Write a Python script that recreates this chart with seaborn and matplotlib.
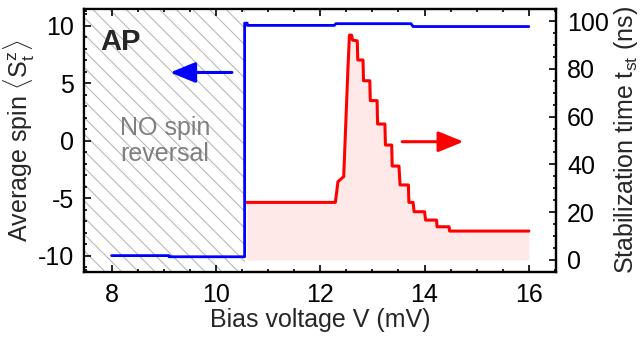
import numpy as np
import seaborn as sns
import matplotlib.pyplot as plt
from matplotlib.ticker import MultipleLocator

# Average spin (left axis) vs bias voltage
v_spin = [8.0, 9.1, 9.1, 10.55, 10.55, 10.6, 10.6, 12.27, 12.3, 13.74, 13.78, 16.0]
spin = [-10.0, -10.0, -10.1, -10.1, 10.25, 10.25, 10.05, 10.05, 10.2, 10.2, 9.95, 9.95]

# Stabilization time (right axis)
v_tst = [10.59, 12.29, 12.34, 12.45, 12.53, 12.56, 12.6, 12.62, 12.71, 12.72,
         12.82, 12.83, 12.95, 12.96, 13.09, 13.1, 13.24, 13.25, 13.37, 13.38,
         13.51, 13.53, 13.69, 13.7, 13.78, 13.8, 14.0, 14.02, 14.23, 14.24,
         14.47, 14.48, 16.0]
t_st = [24.1, 24.1, 32.8, 34.9, 79.5, 94.1, 94.1, 92.0, 91.7, 83.7,
        83.7, 75.0, 75.0, 66.7, 66.7, 56.9, 56.9, 48.1, 48.1, 39.3,
        39.3, 31.4, 31.4, 24.1, 24.1, 20.2, 20.2, 16.7, 16.7, 13.9,
        13.9, 12.1, 12.1]

v_switch = 10.55

sns.set_theme(style="ticks")
plt.rcParams['font.family'] = ['Liberation Sans', 'DejaVu Sans']
plt.rcParams['mathtext.fontset'] = 'custom'
plt.rcParams['mathtext.rm'] = 'Liberation Sans'
plt.rcParams['mathtext.it'] = 'Liberation Sans'
plt.rcParams['hatch.linewidth'] = 0.7

fig = plt.figure(figsize=(6.42, 3.4), dpi=100)
ax = fig.add_axes([0.1308, 0.2009, 0.7352, 0.7717])
ax2 = ax.twinx()

# hatched "no reversal" region
ax.axvspan(7.47, v_switch, facecolor='white', edgecolor='#b0b0b0',
           hatch='\\\\', linewidth=0, zorder=0)

sns.lineplot(x=v_spin, y=spin, ax=ax, color='#0000ff', linewidth=2.0,
             estimator=None, sort=False, zorder=3)
sns.lineplot(x=v_tst, y=t_st, ax=ax2, color='#ff0000', linewidth=2.2,
             estimator=None, sort=False, zorder=3)
ax2.fill_between(v_tst, 0, t_st, color='#ffe8e8', linewidth=0, zorder=1)

ax.set_xlim(7.47, 16.52)
ax.set_ylim(-11.4, 11.45)
ax2.set_ylim(-4.9, 104.9)

ax.xaxis.set_major_locator(MultipleLocator(2))
ax.xaxis.set_minor_locator(MultipleLocator(0.5))
ax.yaxis.set_major_locator(MultipleLocator(5))
ax.yaxis.set_minor_locator(MultipleLocator(1))
ax2.yaxis.set_major_locator(MultipleLocator(20))
ax2.yaxis.set_minor_locator(MultipleLocator(5))

ax.tick_params(which='both', direction='in', top=True, right=False,
               width=1.2, labelsize=18, pad=7, colors='black')
ax.tick_params(axis='x', pad=8)
ax.tick_params(which='major', length=5)
ax.tick_params(which='minor', length=2.5)
ax2.tick_params(which='both', direction='in', width=1.2, labelsize=18,
                pad=8, colors='black')
ax2.tick_params(which='major', length=5)
ax2.tick_params(which='minor', length=2.5)

for a in (ax, ax2):
    for s in a.spines.values():
        s.set_linewidth(1.6)
        s.set_color('black')
    a.set_facecolor('none')
ax.set_zorder(ax2.get_zorder() + 1)
ax2.patch.set_visible(True)
ax2.patch.set_facecolor('white')

ax.set_yticks([-10, -5, 0, 5, 10])
ax.set_yticklabels(['-10', '-5', '0', '5', '10'])

ax.set_xlabel('Bias voltage V (mV)', fontsize=18, labelpad=1)
ax.set_ylabel(r'Average spin $\langle\mathrm{S}^{\mathrm{z}}_{\mathrm{t}}\rangle$',
              fontsize=18, labelpad=1)
ax2.set_ylabel(r'Stabilization time t$_{\mathrm{st}}$ (ns)', fontsize=18,
               labelpad=2)

ax.text(7.78, 8.6, 'AP', fontsize=21, fontweight='bold', va='center', ha='left')
ax.text(9.02, 0.0, 'NO spin\nreversal', fontsize=18, color='#808080',
        ha='center', va='center', linespacing=1.1)

ax.annotate('', xy=(9.07, 5.95), xytext=(10.36, 5.95),
            arrowprops=dict(arrowstyle='-|>,head_length=1.1,head_width=0.45',
                            color='#0000ff', lw=2.2, mutation_scale=14))
ax2.annotate('', xy=(14.8, 49.5), xytext=(13.52, 49.5),
             arrowprops=dict(arrowstyle='-|>,head_length=1.1,head_width=0.45',
                             color='#ff0000', lw=2.2, mutation_scale=14))

fig.savefig('out.png', dpi=100)
